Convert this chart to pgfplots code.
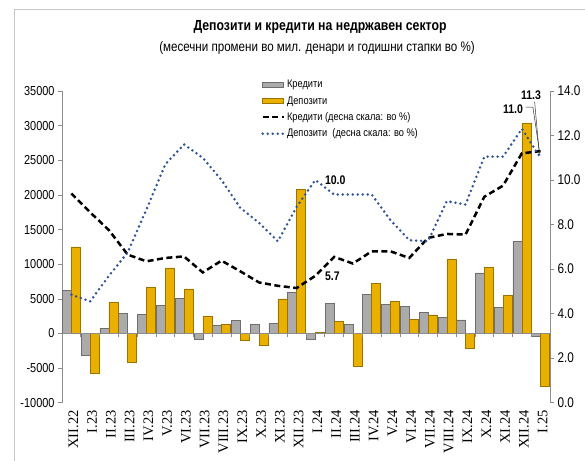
\documentclass[border=0pt]{standalone}
\usepackage{fontspec}
\setmainfont{Liberation Serif}
\newfontfamily\narrow[FakeStretch=0.84]{Liberation Sans}
\usepackage{pgfplots}
\usepackage{pgfplotstable}
\pgfplotsset{compat=1.18}
\definecolor{goldfill}{HTML}{E9B000}
\definecolor{goldline}{HTML}{9C7200}
\definecolor{grayfill}{HTML}{ABABAB}
\definecolor{grayline}{HTML}{6E6E6E}
\definecolor{dotblue}{HTML}{2F5597}
\definecolor{axgray}{HTML}{8C8C8C}
\pgfplotsset{
  barleg/.style={legend image code/.code={\draw[##1] (0bp,-2.5bp) rectangle (21bp,2.5bp);}},
  lineleg/.style={legend image code/.code={\draw[##1] (0bp,0bp) -- (21bp,0bp);}},
}

\pgfplotstableread{
x cred dep cg dg
0 6200 12500 9.4 4.85
1 -3150 -5800 8.55 4.55
2 700 4470 7.75 5.7
3 2900 -4200 6.65 6.75
4 2770 6650 6.35 8.68
5 4030 9470 6.5 10.7
6 5050 6450 6.57 11.6
7 -870 2430 5.85 11.0
8 1210 1300 6.38 10.0
9 1890 -970 5.9 8.75
10 1360 -1700 5.4 8.08
11 1460 5000 5.25 7.25
12 5970 20800 5.15 8.8
13 -870 100 5.7 10.0
14 4320 1750 6.55 9.35
15 1360 -4700 6.25 9.35
16 5630 7280 6.8 9.35
17 4170 4610 6.8 8.2
18 3930 2040 6.5 7.3
19 3010 2670 7.4 7.25
20 2330 10680 7.58 9.05
21 1940 -2180 7.55 8.9
22 8740 9560 9.25 11.05
23 3740 5490 9.75 11.05
24 13250 30300 11.2 12.3
25 -340 -7670 11.3 11.0
}\data

\begin{document}
\begin{tikzpicture}
\useasboundingbox (0bp,0bp) rectangle (585bp,461bp);
\draw[gray!45, line width=0.8bp] (14bp,-10bp) -- (14bp,452bp) -- (600bp,452bp);
\node[font=\narrow\bfseries\fontsize{14.6bp}{17bp}\selectfont] at (320bp,434bp) {Депозити и кредити на недржавен сектор};
\node[font=\narrow\fontsize{13.8bp}{16bp}\selectfont] at (317bp,413bp) {(месечни промени во мил. денари и годишни стапки во \%)};

\begin{axis}[
  at={(62bp,58.3bp)}, anchor=south west,
  scale only axis, width=488bp, height=311.7bp,
  xmin=-0.5, xmax=25.5, ymin=-10000, ymax=35000,
  axis y line*=left, axis x line*=bottom,
  x axis line style={draw=none}, y axis line style={axgray, line width=0.6bp, -},
  xtick={0,...,25},
  xticklabels={XII.22,I.23,II.23,III.23,IV.23,V.23,VI.23,VII.23,VIII.23,IX.23,X.23,XI.23,XII.23,I.24,II.24,III.24,IV.24,V.24,VI.24,VII.24,VIII.24,IX.24,X.24,XI.24,XII.24,I.25},
  xticklabel style={rotate=90, anchor=east, font=\rmfamily\fontsize{14.5bp}{16bp}\selectfont, yshift=-2bp},
  x tick style={draw=none},
  ytick={-10000,-5000,...,35000},
  y tick style={axgray, line width=0.6bp},
  tick align=outside, major tick length=4bp,
  scaled y ticks=false,
  yticklabel style={font=\narrow\fontsize{13bp}{15bp}\selectfont, /pgf/number format/.cd, set thousands separator={}, assume math mode=true},
  ybar=0pt, bar width=9bp,
  clip=false,
  legend style={at={(axis description cs:0.408,1.041)}, anchor=north west, draw=none, fill=none,
    font=\narrow\fontsize{11bp}{12bp}\selectfont, row sep=3bp, inner sep=0pt,
    /tikz/every even column/.append style={column sep=2bp}},
  legend cell align=left,
]
\addplot[draw=grayline, line width=0.5bp, fill=grayfill, barleg] table[x=x,y=cred]{\data};
\addlegendentry{Кредити}
\addplot[draw=goldline, line width=0.5bp, fill=goldfill, barleg] table[x=x,y=dep]{\data};
\addlegendentry{Депозити}
\addlegendimage{black, line width=2.5bp, dash pattern=on 6bp off 3.5bp, lineleg}
\addlegendentry{Кредити (десна скала: во \%)}
\addlegendimage{dotblue, line width=2.8bp, line cap=round, dash pattern=on 0bp off 5bp, lineleg}
\addlegendentry{Депозити\ \ (десна скала: во \%)}
\draw[axgray, line width=0.6bp] (axis cs:-0.5,0) -- (axis cs:25.5,0);
\pgfplotsinvokeforeach{0,...,26}{\draw[axgray, line width=0.6bp] (axis cs:#1-0.5,0) -- ++(0bp,-4bp);}
\end{axis}

\begin{axis}[
  at={(62bp,58.3bp)}, anchor=south west,
  scale only axis, width=488bp, height=311.7bp,
  xmin=-0.5, xmax=25.5, ymin=0, ymax=14,
  axis y line*=right, axis x line=none,
  y axis line style={axgray, line width=0.6bp, -},
  ytick={0,2,...,14},
  y tick style={axgray, line width=0.6bp},
  tick align=outside, major tick length=4bp,
  yticklabel style={font=\narrow\fontsize{14bp}{16bp}\selectfont, /pgf/number format/.cd, fixed, fixed zerofill, precision=1, assume math mode=true},
  clip=false,
]
\addplot[black, line width=2.5bp, dash pattern=on 6bp off 3.5bp] table[x=x,y=cg]{\data};
\addplot[dotblue, line width=2.8bp, line cap=round, dash pattern=on 0bp off 5bp] table[x=x,y=dg]{\data};
\node[anchor=west, font=\narrow\bfseries\fontsize{12.5bp}{14bp}\selectfont, inner sep=1bp] at (axis cs:13.45,10.0) {10.0};
\node[anchor=west, font=\narrow\bfseries\fontsize{12.5bp}{14bp}\selectfont, inner sep=1bp] at (axis cs:13.45,5.7) {5.7};
\node[font=\narrow\bfseries\fontsize{12.5bp}{14bp}\selectfont, inner sep=1bp] at (axis cs:23.53,13.18) {11.0};
\node[font=\narrow\bfseries\fontsize{12.5bp}{14bp}\selectfont, inner sep=1bp] at (axis cs:24.49,13.80) {11.3};
\draw[black!80, line width=0.5bp] (axis cs:24.2,13.27) -- (axis cs:24.59,13.27) -- (axis cs:24.97,11.1);
\draw[black!80, line width=0.5bp] (axis cs:24.68,13.52) -- (axis cs:24.91,11.36);
\end{axis}
\end{tikzpicture}
\end{document}
